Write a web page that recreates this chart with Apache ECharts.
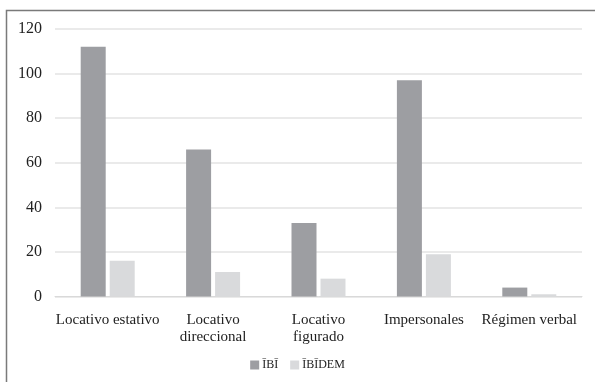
<!DOCTYPE html>
<html><head><meta charset="utf-8">
<script src="https://cdn.jsdelivr.net/npm/echarts@6/dist/echarts.min.js"></script>
<style>html,body{margin:0;padding:0;background:#fff}#c{width:595px;height:382px}</style>
</head><body><div id="c"></div>
<script>
const categories = ['Locativo estativo', 'Locativo\ndireccional', 'Locativo\nfigurado', 'Impersonales', 'Régimen verbal'];
const seriesNames = ['ĪBĪ', 'ĪBĪDEM'];
const ibiValues = [112, 66, 33, 97, 4];
const ibidemValues = [16, 11, 8, 19, 1];
const yTicks = [0, 20, 40, 60, 80, 100, 120];

const chart = echarts.init(document.getElementById('c'));
const font = '"Liberation Serif", "Times New Roman", serif';
chart.setOption({
  animation: false,
  textStyle: { fontFamily: font },
  graphic: [{
    type: 'rect', silent: true,
    shape: { x: 6.5, y: 10.5, width: 800, height: 600 },
    style: { fill: 'none', stroke: '#7a7a7a', lineWidth: 1.5 }
  }],
  legend: {
    data: seriesNames, top: 354, left: 'center',
    itemWidth: 9, itemHeight: 9, itemGap: 12, icon: 'rect',
    textStyle: { fontFamily: font, fontSize: 12, color: '#222', padding: [0, 0, 0, -2] }
  },
  grid: { left: 55, right: 13, top: 29, bottom: 85.5, containLabel: false },
  xAxis: {
    type: 'category', data: categories,
    axisLine: { show: true, lineStyle: { color: '#d9d9d9', width: 1 } },
    axisTick: { show: false },
    axisLabel: { fontFamily: font, fontSize: 15, color: '#222', margin: 15, lineHeight: 17, interval: 0 }
  },
  yAxis: {
    type: 'value', min: yTicks[0], max: yTicks[yTicks.length - 1], interval: 20,
    axisLine: { show: false }, axisTick: { show: false },
    splitLine: { lineStyle: { color: '#e3e3e3', width: 1.5 } },
    axisLabel: { fontFamily: font, fontSize: 16, color: '#222', margin: 13 }
  },
  series: [
    { name: seriesNames[0], type: 'bar', data: ibiValues, barWidth: 25, barGap: '16%',
      itemStyle: { color: '#9d9ea2' } },
    { name: seriesNames[1], type: 'bar', data: ibidemValues, barWidth: 25,
      itemStyle: { color: '#d9dadc' } }
  ]
});
</script></body></html>
